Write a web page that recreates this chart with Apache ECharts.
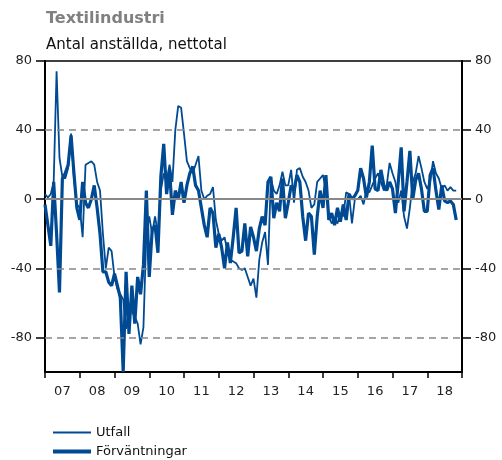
<!DOCTYPE html>
<html>
<head>
<meta charset="utf-8">
<script src="https://cdn.jsdelivr.net/npm/echarts@6/dist/echarts.min.js"></script>
<style>
  html, body { margin: 0; padding: 0; background: #fff; }
  #chart { width: 502px; height: 460px; }
</style>
</head>
<body>
<div id="chart"></div>
<script>
// year labels, monthly data jan 2007 - nov 2018
var years = ['07', '08', '09', '10', '11', '12', '13', '14', '15', '16', '17', '18'];
var yTicks = [-80, -40, 0, 40, 80];

var utfall = [
  3, 1, 3, 10, 74, 24, 13, 12, 18, 38, 12, -3,
  -5, -22, 20, 21, 22, 20, 10, 5, -20, -40, -28, -30,
  -45, -52, -55, -58, -75, -62, -65, -68, -72, -84, -74, -20,
  -10, -20, -10, -20, 5, 15, 10, 20, 10, 40, 54, 53,
  38, 22, 18, 15, 20, 25, 5, 0, 2, 3, 7, -12,
  -20, -24, -22, -30, -35, -36, -37, -40, -41, -40, -45, -50,
  -46, -57, -35, -25, -19, -38, 12, 5, 3, 8, 16, 8,
  8, 17, -2, 17, 18, 13, 10, 5, -5, -3, 10, 12,
  14, 5, -10, -14, -12, -14, -8, -10, 4, 3, -14, 0,
  0, 2, -3, 5, 4, 8, 12, 15, 10, 5, 8, 21,
  15, 10, -2, 5, -10, -17, -5, 10, 15, 25, 18, 10,
  6, 10, 22, 15, 12, 6, 8, 5, 7, 5, 5
];

var forvantningar = [
  -3, -15, -27, 10, -20, -54, 12, 15, 20, 37, 15, -5,
  -12, 10, -2, -5, 0, 8, -5, -20, -42, -42, -48, -50,
  -43, -50, -57, -100, -42, -78, -50, -72, -45, -55, -38, 5,
  -45, -18, -15, -31, 13, 32, 3, 17, -9, 5, 0, 10,
  -2, 8, 15, 19, 8, 5, -5, -15, -22, -5, -8, -28,
  -20, -28, -40, -25, -37, -22, -5, -31, -30, -14, -33, -16,
  -22, -30, -17, -10, -15, 10, 13, -11, -2, -7, 12, -11,
  -2, 8, 5, 14, 10, -10, -24, -8, -10, -32, -10, 5,
  -5, 14, -12, -8, -15, -5, -13, -3, -12, 3, 0, 2,
  5, 18, 12, 1, 10, 31, 6, 5, 17, 8, 5, 10,
  6, -8, 10, 30, -7, 10, 28, 0, 11, 15, 6, -7,
  -7, 14, 18, 5, -6, 8, -1, -2, -1, -3, -12
];

var blue = '#004a93';
var font = 'DejaVu Sans';

function pairs(arr) {
  return arr.map(function (v, i) { return [i, v]; });
}

var chart = echarts.init(document.getElementById('chart'));

var yAxisBase = {
  type: 'value',
  min: -100,
  max: 80,
  interval: 20,
  axisLine: { show: true, lineStyle: { color: '#000', width: 2 } },
  axisTick: { show: true, length: 9, customValues: yTicks, lineStyle: { color: '#000', width: 1.5 } },
  axisLabel: { customValues: yTicks, color: '#222', fontFamily: font, fontSize: 13, margin: 13 },
  splitLine: { show: false }
};

var option = {
  animation: false,
  backgroundColor: '#fff',
  title: [
    {
      text: 'Textilindustri',
      left: 41,
      top: 6,
      textStyle: { fontFamily: font, fontSize: 16, fontWeight: 'bold', color: '#808080' }
    },
    {
      text: 'Antal anställda, nettotal',
      left: 41,
      top: 33,
      textStyle: { fontFamily: font, fontSize: 15, fontWeight: 'normal', color: '#111' }
    }
  ],
  legend: [
    {
      data: ['Utfall'],
      left: 48,
      top: 421,
      icon: 'rect',
      itemWidth: 38,
      itemHeight: 2,
      textStyle: { fontFamily: font, fontSize: 13, color: '#111' }
    },
    {
      data: ['Förväntningar'],
      left: 48,
      top: 440,
      icon: 'rect',
      itemWidth: 38,
      itemHeight: 4,
      textStyle: { fontFamily: font, fontSize: 13, color: '#111' }
    }
  ],
  grid: {
    left: 45,
    right: 40,
    top: 61,
    bottom: 88,
    show: true,
    borderColor: '#000',
    borderWidth: 1.5
  },
  xAxis: [
    {
      type: 'value',
      min: 0,
      max: 144,
      interval: 12,
      axisLine: { show: true, onZero: false, lineStyle: { color: '#000', width: 2 } },
      axisTick: { show: true, length: 6, lineStyle: { color: '#000', width: 1.5 } },
      axisLabel: { show: false },
      splitLine: { show: false }
    },
    {
      type: 'category',
      data: years,
      position: 'bottom',
      boundaryGap: true,
      axisLine: { show: false },
      axisTick: { show: false },
      axisLabel: { color: '#222', fontFamily: font, fontSize: 13, margin: 13 },
      splitLine: { show: false }
    }
  ],
  yAxis: [
    Object.assign({}, yAxisBase, { position: 'left' }),
    Object.assign({}, yAxisBase, { position: 'right' })
  ],
  series: [
    {
      name: 'grid',
      type: 'line',
      data: [],
      z: 1,
      silent: true,
      markLine: {
        silent: true,
        symbol: 'none',
        label: { show: false },
        data: [
          { yAxis: 40, lineStyle: { type: [7, 5], color: '#888', width: 1.5 } },
          { yAxis: -40, lineStyle: { type: [7, 5], color: '#888', width: 1.5 } },
          { yAxis: -80, lineStyle: { type: [7, 5], color: '#888', width: 1.5 } },
          { yAxis: 0, lineStyle: { type: 'solid', color: '#888', width: 2 } }
        ]
      }
    },
    {
      name: 'Utfall',
      type: 'line',
      data: pairs(utfall),
      showSymbol: false,
      z: 3,
      color: blue,
      lineStyle: { color: blue, width: 1.8 }
    },
    {
      name: 'Förväntningar',
      type: 'line',
      data: pairs(forvantningar),
      showSymbol: false,
      z: 4,
      color: blue,
      lineStyle: { color: blue, width: 3.2 }
    }
  ]
};

option && chart.setOption(option);
</script>
</body>
</html>
